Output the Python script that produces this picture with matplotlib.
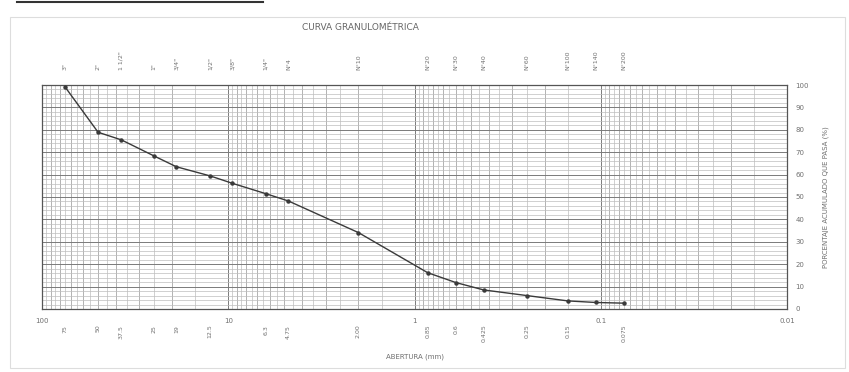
import numpy as np
import matplotlib.pyplot as plt
from matplotlib.ticker import FixedLocator, NullFormatter

# abertura (mm) y % que pasa
aberturas = [75, 50, 37.5, 25, 19, 12.5, 9.5, 6.3, 4.75, 2.0, 0.85, 0.6, 0.425, 0.25, 0.15, 0.106, 0.075]
pasa = [99.0, 78.9, 75.5, 68.3, 63.5, 59.4, 56.1, 51.5, 48.2, 34.1, 16.2, 11.8, 8.5, 6.0, 3.6, 2.9, 2.6]

tamices = ['3"', '2"', '1 1/2"', '1"', '3/4"', '1/2"', '3/8"', '1/4"', 'N°4', 'N°10',
           'N°20', 'N°30', 'N°40', 'N°60', 'N°100', 'N°140', 'N°200']
tamiz_mm = [75, 50, 37.5, 25, 19, 12.5, 9.5, 6.3, 4.75, 2.0, 0.85, 0.6, 0.425, 0.25, 0.15, 0.106, 0.075]

abajo_mm = [75, 50, 37.5, 25, 19, 12.5, 6.3, 4.75, 2.0, 0.85, 0.6, 0.425, 0.25, 0.15, 0.075]
abajo_txt = ['75', '50', '37.5', '25', '19', '12.5', '6.3', '4.75', '2.00', '0.85', '0.6', '0.425', '0.25', '0.15', '0.075']
decadas = [100, 10, 1, 0.1, 0.01]
decadas_txt = ['100', '10', '1', '0.1', '0.01']

txt = '#707070'

fig = plt.figure(figsize=(8.49, 3.72), dpi=100)
fig.patch.set_facecolor('white')

# marco de la hoja escaneada
fig.add_artist(plt.Rectangle((0.012, 0.01), 0.983, 0.945, transform=fig.transFigure,
                             fill=False, ec='#dddddd', lw=0.8))
fig.add_artist(plt.Line2D([0.02, 0.31], [0.995, 0.995], transform=fig.transFigure,
                          color='#333333', lw=1.5))

ax = fig.add_axes([0.0495, 0.1694, 0.8775, 0.6021])
ax.set_xscale('log')
ax.set_xlim(100, 0.01)
ax.set_ylim(0, 100)

# papel semilogaritmico
finos = []
for d in [0.01, 0.1, 1, 10]:
    for s in np.arange(1.0, 10.0, 0.5):
        finos.append(d * s)
ax.xaxis.set_minor_locator(FixedLocator(finos))
ax.xaxis.set_major_locator(FixedLocator(decadas))
ax.xaxis.set_minor_formatter(NullFormatter())
ax.set_xticklabels([])
ax.yaxis.set_minor_locator(FixedLocator(np.arange(0, 101, 2)))
ax.yaxis.set_major_locator(FixedLocator(np.arange(0, 101, 10)))
ax.grid(which='minor', color='#bdbdbd', lw=0.5)
ax.grid(which='major', color='#7a7a7a', lw=0.7)
for d in [0.01, 0.1, 1, 10]:
    for s in range(2, 10):
        ax.axvline(d * s, color='#8f8f8f', lw=0.6, zorder=0.5)
ax.tick_params(which='both', length=0)
ax.yaxis.tick_right()
ax.set_yticklabels([str(v) for v in range(0, 101, 10)], fontsize=5, color=txt)
ax.tick_params(axis='y', pad=6)
for s in ax.spines.values():
    s.set_color('#555555')
    s.set_linewidth(0.9)

ax.plot(aberturas, pasa, '-', color='#3a3a3a', lw=1.0, marker='o', ms=2.2, zorder=3)

# etiquetas de tamices
for t, d in zip(tamices, tamiz_mm):
    ax.text(d, 1.065, t, transform=ax.get_xaxis_transform(), rotation=90,
            ha='center', va='bottom', fontsize=4.5, color=txt)
for t, d in zip(abajo_txt, abajo_mm):
    ax.text(d, -0.07, t, transform=ax.get_xaxis_transform(), rotation=90,
            ha='center', va='top', fontsize=4.5, color=txt)
for t, d in zip(decadas_txt, decadas):
    ax.text(d, -0.04, t, transform=ax.get_xaxis_transform(),
            ha='center', va='top', fontsize=5, color=txt)

ax.text(0.5, -0.2, 'ABERTURA (mm)', transform=ax.transAxes, ha='center', va='top',
        fontsize=5, color=txt)
ax.text(1.052, 0.5, 'PORCENTAJE ACUMULADO QUE PASA (%)', transform=ax.transAxes,
        rotation=90, ha='center', va='center', fontsize=5, color=txt)
fig.text(0.425, 0.925, 'CURVA GRANULOMÉTRICA', ha='center', va='center',
         fontsize=6.5, color='#666666')

fig.savefig('out.png', dpi=100)
